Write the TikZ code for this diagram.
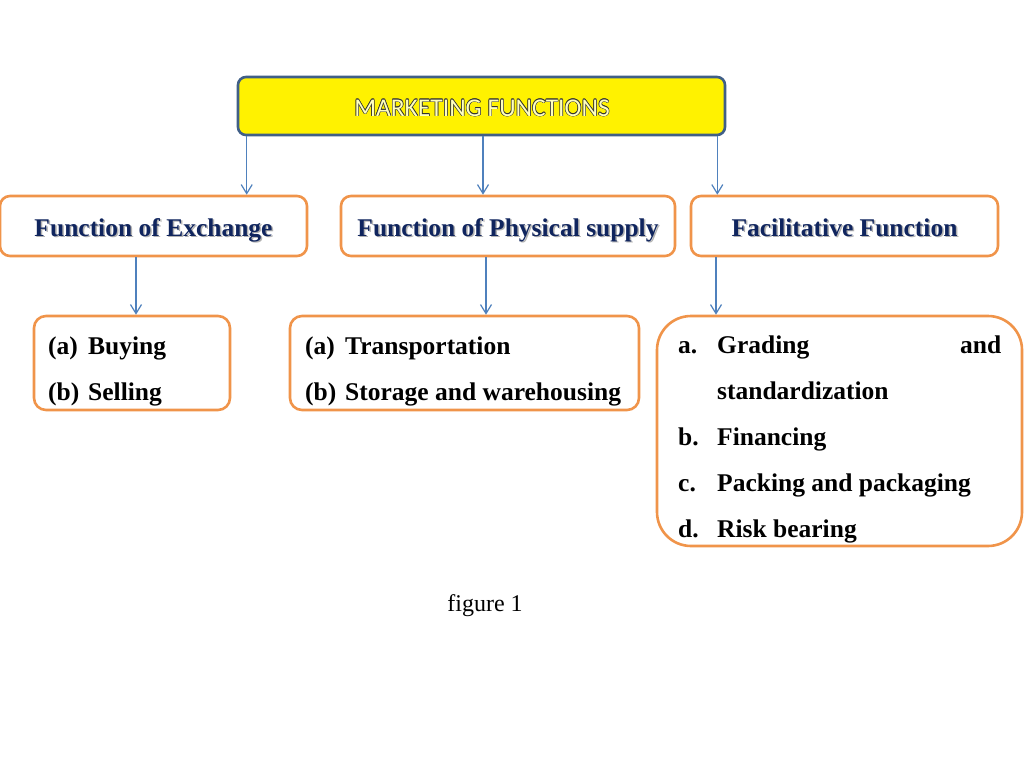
\documentclass[tikz,border=0pt]{standalone}
\usepackage{fontspec}
\setmainfont{Liberation Serif}
\newfontfamily\carl{Carlito}
\usetikzlibrary{arrows.meta}
\definecolor{orng}{RGB}{240,148,74}
\definecolor{arrblue}{RGB}{79,129,189}
\definecolor{topborder}{RGB}{64,95,135}
\definecolor{navy}{RGB}{16,37,94}
\definecolor{olbl}{RGB}{50,50,50}
\definecolor{olfill}{RGB}{255,255,190}
\newcommand\mkoc[3]{\makebox[0pt][l]{\hspace{#1}\raisebox{#2}{\textcolor{olbl}{#3}}}}
\newcommand\outltxt[1]{\mkoc{0.6pt}{0pt}{#1}\mkoc{-0.6pt}{0pt}{#1}\mkoc{0pt}{0.6pt}{#1}\mkoc{0pt}{-0.6pt}{#1}\mkoc{0.42pt}{0.42pt}{#1}\mkoc{-0.42pt}{0.42pt}{#1}\mkoc{0.42pt}{-0.42pt}{#1}\mkoc{-0.42pt}{-0.42pt}{#1}\textcolor{olfill}{#1}}
\newcommand\shtxt[1]{\makebox[0pt][l]{\hspace{1.5pt}\raisebox{-1.8pt}{\textcolor{black!30}{#1}}}\textcolor{navy}{#1}}
\tikzset{
  topbox/.style={draw=topborder, line width=2.6pt, fill=yellow, rounded corners=8pt, minimum width=487pt, minimum height=58pt, inner sep=0pt},
  headbox/.style={draw=orng, line width=2.6pt, fill=white, rounded corners=10pt, minimum height=60pt, inner sep=0pt},
  lowbox/.style={draw=orng, line width=2.6pt, fill=white, rounded corners=12pt, inner sep=0pt},
  headtxt/.style={font=\fontsize{25.5}{30}\selectfont\bfseries, inner sep=0pt, anchor=base},
  itemtxt/.style={font=\fontsize{25.5}{46}\selectfont\bfseries, inner sep=0pt, anchor=north west},
  arr/.style={draw=arrblue, line width=1.2pt, -{Straight Barb[length=9pt,width=11pt,line width=1.2pt]}},
}
\begin{document}
\begin{tikzpicture}[x=1pt,y=-1pt]
\useasboundingbox[fill=white] (0,0) rectangle (1024,768);
% top
\node[topbox] (top) at (481.5,106) {};
\node[font=\carl\fontsize{25.5}{30}\selectfont, inner sep=0pt, anchor=base] (toptxt) at (482,116) {\outltxt{MARKETING FUNCTIONS}};
% headers
\node[headbox, minimum width=307pt] (h1) at (153.5,226) {};
\node[headbox, minimum width=334pt] (h2) at (508,226) {};
\node[headbox, minimum width=307pt] (h3) at (844.5,226) {};
\node[headtxt] (h1t) at ([yshift=-10pt]h1.center) {\shtxt{Function of Exchange}};
\node[headtxt] (h2t) at ([yshift=-10pt]h2.center) {\shtxt{Function of Physical supply}};
\node[headtxt] (h3t) at ([yshift=-10pt]h3.center) {\shtxt{Facilitative Function}};
% lower boxes
\node[lowbox, minimum width=196pt, minimum height=94pt] (la) at (132,363) {};
\node[lowbox, minimum width=349pt, minimum height=94pt] (lb) at (464.5,363) {};
\node[lowbox, rounded corners=34pt, minimum width=365pt, minimum height=230pt] (lc) at (839.5,431) {};
\node[itemtxt] (lat) at (48,321.8) {\begin{tabular}{@{}p{40pt}@{}l@{}}(a) & Buying\\(b) & Selling\end{tabular}};
\node[itemtxt] (lbt) at (305,321.8) {\begin{tabular}{@{}p{40pt}@{}l@{}}(a) & Transportation\\(b) & Storage and warehousing\end{tabular}};
\node[itemtxt] (lct) at (678,320.8) {\begin{tabular}{@{}p{39pt}@{}p{284pt}@{}}a. & Grading\hfill and\\ & standardization\\b. & Financing\\c. & Packing and packaging\\d. & Risk bearing\end{tabular}};
% arrows
\draw[arr] ([xshift=10pt]top.south west) -- ([xshift=10pt]top.south west |- h1.north);
\draw[arr] ([xshift=1.5pt]top.south) -- ([xshift=1.5pt]top.south |- h2.north);
\draw[arr] ([xshift=-9pt]top.south east) -- ([xshift=-9pt]top.south east |- h3.north);
\draw[arr] ([xshift=4pt]la.north |- h1.south) -- ([xshift=4pt]la.north);
\draw[arr] ([xshift=-22pt]h2.south) -- ([xshift=-22pt]h2.south |- lb.north);
\draw[arr] ([xshift=-128.5pt]h3.south) -- ([xshift=-128.5pt]h3.south |- lc.north);
% caption
\node[font=\fontsize{24}{29}\selectfont, inner sep=0pt, anchor=base] (cap) at (485,611) {figure 1};
\end{tikzpicture}
\end{document}
